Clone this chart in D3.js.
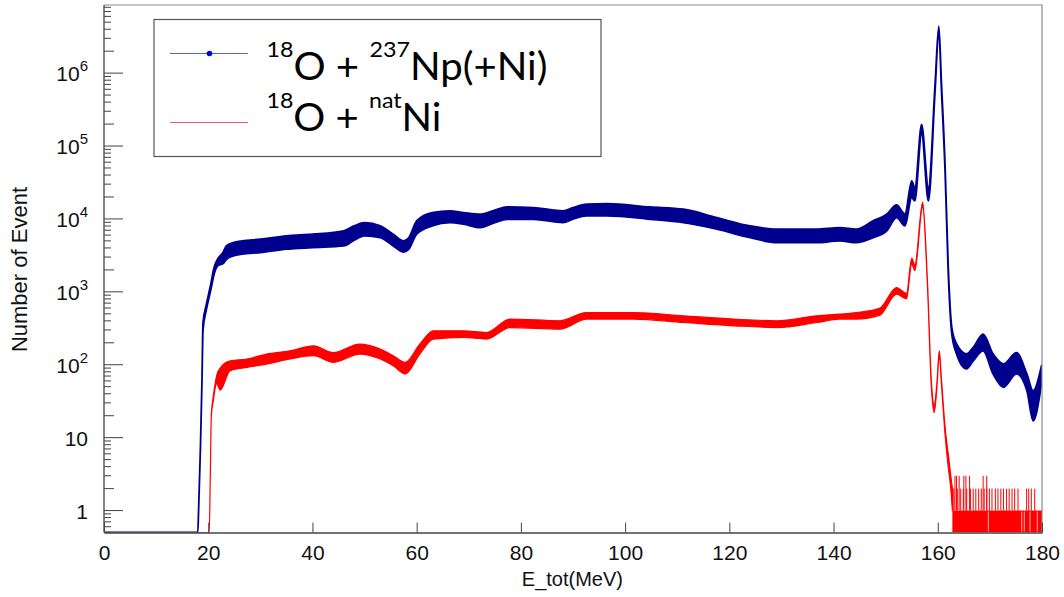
<!DOCTYPE html>
<html><head><meta charset="utf-8">
<script src="https://cdn.jsdelivr.net/npm/d3@7"></script>
<style>body{margin:0;background:#fff}svg{display:block}</style>
</head><body>
<svg id="c" width="1064" height="597"></svg>
<script>
// ---------------- data ----------------
const xTickValues = [0,20,40,60,80,100,120,140,160,180];
const yTickValues = [1,10,100,1000,10000,100000,1000000];
const yTickBase   = ["1","10","10","10","10","10","10"];
const yTickExp    = ["","","2","3","4","5","6"];

// 18O + 237Np(+Ni): energy (MeV), lower / upper envelope of the band (counts)
const blueE    = [0,18.0,18.15,18.5,18.8,19.0,19.6,20.6,21.0,21.9,22.8,23.5,24.8,26.5,30,35,40,46,48,50,53,55.5,57.5,58.5,60,63,66.4,69,72.2,75,77.3,82.4,88.1,90,92.6,96.5,104.8,111.2,117.6,124,129.1,136.7,141.2,144.4,147.6,150.2,152.1,153.7,155.0,155.6,156.9,158.2,159.5,160.2,160.7,161.4,162.0,162.7,163.6,165.5,166.8,168.7,170.6,172.6,175.1,177.1,178.3,179.9];
const blueLow  = [0,0,1,7,60,300,550,1150,1600,2300,2419,2800,3113,3300,3452,3845,4045,4266,5105,5850,5546,4266,3500,3845,6166,8017,8892,8470,7600,8892,9908,9908,8892,9908,10990,10990,9908,8892,7227,5546,4732,4732,5000,4732,5546,6852,10420,8017,19590,17640,146000,17640,600000,3900000,600000,45000,1900,260,141,88,113,155,75,49,75,44,17,55];
const blueHigh = [0,0,1,7,60,380,650,1400,2000,2900,3452,4300,4732,5000,5272,5850,6166,6852,8017,8892,8017,6166,5000,5546,9390,12200,12870,12200,11590,13200,14590,14300,12870,14300,15900,16220,14590,13580,10420,8017,7227,7227,7600,7227,9390,11590,15550,11710,33180,26840,198300,26840,750000,4400000,750000,55000,2300,320,194,141,173,263,141,103,147,75,44,97];

// 18O + natNi
const redE    = [0,20.2,20.4,20.6,21.0,21.6,22.3,24.2,27.4,31.2,35.7,40.2,44,49.1,53,55.5,57.8,60.6,63.2,69,73.4,77.9,87.5,92.6,101.6,111.2,120.8,129.1,136.8,141.2,144.4,148.9,152.1,154.0,155.0,155.6,157.1,158.0,158.8,159.3,159.8,160.3,160.7,161.4,162.0,162.5,162.8];
const redLow  = [0,0,3,20,33,55,45,83,92,102,120,133,108,140,120,97,75,140,225,237,225,324,308,423,423,380,342,324,380,423,423,480,930,800,2400,1950,14500,1300,45,22,45,135,55,11,4,2,1];
const redHigh = [0,0,3,21,38,70,90,113,120,140,155,182,147,192,164,133,108,192,292,292,277,423,401,520,520,469,423,401,469,495,520,600,1146,950,2900,2350,17000,1500,55,28,52,155,65,14,6,3,2];
// tail: bins alternating between 0 and 1 (solid), spikes to 2 and 3, a few empty bins
const redFloorE     = [162.8,180];
const redFloorLevel = 1;
const redSpike2E = [162.9,163.1,163.75,164.4,164.9,165.55,166.3,166.8,167.3,167.85,168.35,168.9,169.4,169.9,170.4,171.05,171.55,172.1,172.6,173.2,173.7,174.25,174.75,175.4,177.05,177.45,177.95,178.6];
const redSpike3E = [163.3,163.6,164.1,165.0,165.4,166.1,168.7,169.4];
const redGapE    = [169.7,176.1,176.6,177.7,179.1];

// ---------------- chart ----------------
const svg = d3.select("#c");
const L = 104, R = 1042, T = 5, B = 532.5;
const x = d3.scaleLinear().domain([0,180]).range([L,R]);
const y = d3.scaleLog().domain([0.5,8.6e6]).range([B,T]).clamp(true);
const yv = v => y(Math.max(v,0.5));

svg.append("defs").append("clipPath").attr("id","clip")
  .append("rect").attr("x",L).attr("y",T).attr("width",R-L).attr("height",B-T);

const plot = svg.append("g").attr("clip-path","url(#clip)");

const blue = blueE.map((e,i)=>({e, lo:blueLow[i], hi:blueHigh[i]}));
const red  = redE.map((e,i)=>({e, lo:redLow[i], hi:redHigh[i]}));
const band = d3.area().curve(d3.curveMonotoneX).x(d=>x(d.e)).y0(d=>yv(d.lo)).y1(d=>yv(d.hi));

plot.append("path").datum(blue).attr("d",band)
  .attr("fill","#00008e").attr("stroke","#00008e").attr("stroke-width",1.8).attr("stroke-linejoin","round");

plot.append("path").datum(red).attr("d",band)
  .attr("fill","#ff0000").attr("stroke","#ff0000").attr("stroke-width",1.2).attr("stroke-linejoin","round");

// red tail
plot.append("path").datum(redFloorE)
  .attr("d", d3.area().x(e=>x(e)).y0(B).y1(yv(redFloorLevel)))
  .attr("fill","#ff0000");
plot.selectAll(".gap").data(redGapE).join("line").attr("class","gap")
  .attr("x1",e=>x(e)).attr("x2",e=>x(e)).attr("y1",yv(redFloorLevel)+1).attr("y2",B-1)
  .attr("stroke","#ffb0b0").attr("stroke-width",1);
plot.selectAll(".s2").data(redSpike2E).join("line").attr("class","s2")
  .attr("x1",e=>x(e)).attr("x2",e=>x(e)).attr("y1",yv(2)).attr("y2",yv(1))
  .attr("stroke","#ff0000").attr("stroke-width",1);
plot.selectAll(".s3").data(redSpike3E).join("line").attr("class","s3")
  .attr("x1",e=>x(e)).attr("x2",e=>x(e)).attr("y1",yv(3)).attr("y2",yv(1))
  .attr("stroke","#ff0000").attr("stroke-width",1);

// frame
svg.append("path").attr("d",`M${L},${T}H${R}V${B}`).attr("fill","none").attr("stroke","#8a8a8a").attr("stroke-width",1.2);

// x axis
const xAxis = d3.axisBottom(x).tickValues(xTickValues).tickSizeInner(-10).tickSizeOuter(0).tickPadding(12.5);
const gx = svg.append("g").attr("transform",`translate(0,${B})`).call(xAxis);
gx.select(".domain").attr("stroke","#444").attr("stroke-width",1.3);
gx.selectAll(".tick line").attr("stroke","#444");
gx.selectAll(".tick text").attr("font-family","Liberation Sans, Arial, sans-serif").attr("font-size",21).attr("fill","#111");

// y axis: minor ticks
const minor = [], minor2 = [];
for (let n=-1;n<=6;n++) for (let k=2;k<=9;k++){ const v=k*Math.pow(10,n); if(v>=0.5 && v<=8.6e6) (k===2?minor2:minor).push(v); }
const gy = svg.append("g");
gy.append("line").attr("x1",L).attr("x2",L).attr("y1",T).attr("y2",B).attr("stroke","#444").attr("stroke-width",1.3);
gy.selectAll(".mj").data(yTickValues).join("line").attr("x1",L).attr("x2",L+19).attr("y1",d=>y(d)).attr("y2",d=>y(d)).attr("stroke","#444");
gy.selectAll(".m2").data(minor2).join("line").attr("x1",L).attr("x2",L+10).attr("y1",d=>y(d)).attr("y2",d=>y(d)).attr("stroke","#444");
gy.selectAll(".m1").data(minor).join("line").attr("x1",L).attr("x2",L+7).attr("y1",d=>y(d)).attr("y2",d=>y(d)).attr("stroke","#444");

const lab = gy.selectAll(".yl").data(yTickValues).join("text")
  .attr("x",88).attr("y",d=>y(d)+8).attr("text-anchor","end")
  .attr("font-family","Liberation Sans, Arial, sans-serif").attr("font-size",21).attr("fill","#111");
lab.each(function(d,i){
  const t=d3.select(this);
  t.append("tspan").text(yTickBase[i]);
  if(yTickExp[i]) t.append("tspan").attr("font-size",15).attr("dy",-10).text(yTickExp[i]);
});

// axis titles
svg.append("text").attr("x",623).attr("y",586).attr("text-anchor","end")
  .attr("font-family","Liberation Sans, Arial, sans-serif").attr("font-size",20).attr("fill","#111").text("E_tot(MeV)");
svg.append("text").attr("transform","translate(27,187) rotate(-90)").attr("text-anchor","end")
  .attr("font-family","Liberation Sans, Arial, sans-serif").attr("font-size",22).attr("fill","#111").text("Number of Event");

// legend
const leg = svg.append("g");
leg.append("rect").attr("x",154).attr("y",19.5).attr("width",447).attr("height",137)
  .attr("fill","#fff").attr("stroke","#555").attr("stroke-width",1.2);
leg.append("line").attr("x1",170).attr("x2",248).attr("y1",53.5).attr("y2",53.5).attr("stroke","#5566cc").attr("stroke-width",1.1);
leg.append("circle").attr("cx",209.5).attr("cy",53.5).attr("r",2.8).attr("fill","#0000ee");
leg.append("line").attr("x1",170).attr("x2",248).attr("y1",122.5).attr("y2",122.5).attr("stroke","#e65a66").attr("stroke-width",1.1);

const legendItems = [
  {parts:[["18",true],["O + ",false],["237",true],["Np(+Ni)",false]], base:80, width:281},
  {parts:[["18",true],["O + ",false],["nat",true],["Ni",false]], base:131, width:175}
];
legendItems.forEach(item=>{
  const t = leg.append("text").attr("font-family","Lato, 'Open Sans', sans-serif").attr("fill","#000")
    .attr("transform",`translate(266.5,${item.base})`).attr("xml:space","preserve");
  let sup=false;
  item.parts.forEach(([s,isSup])=>{
    const ts = t.append("tspan").text(s).attr("font-size", isSup?22:38);
    if(isSup && !sup){ ts.attr("dy",-23); sup=true; }
    else if(!isSup && sup){ ts.attr("dy",23); sup=false; }
  });
  const w = t.node().getComputedTextLength();
  t.attr("transform",`translate(266.5,${item.base}) scale(${item.width/w},1)`);
});
</script>
</body></html>
